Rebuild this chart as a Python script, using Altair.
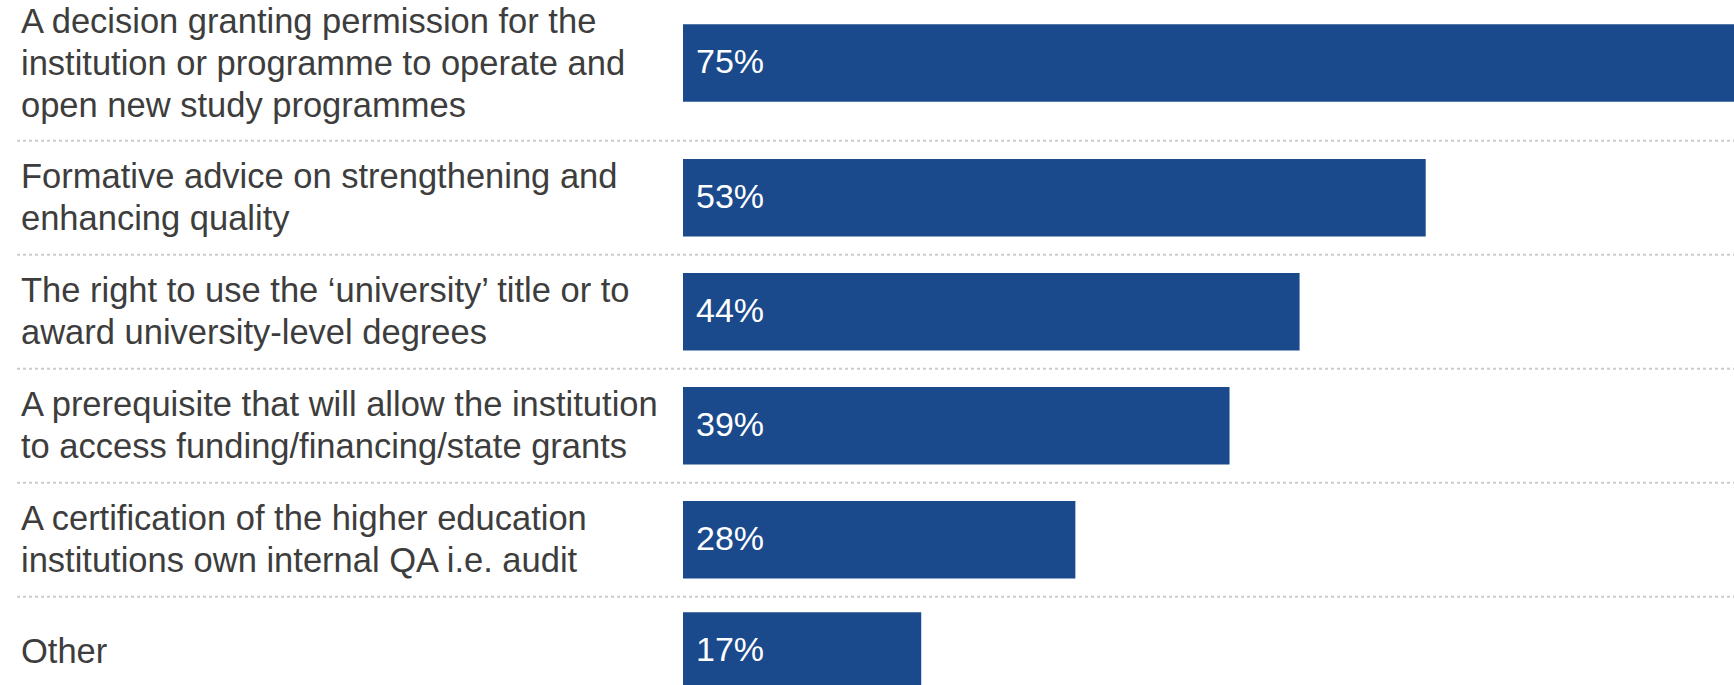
import altair as alt
import pandas as pd

# ---- data ----
categories = [
    "A decision granting permission for the\ninstitution or programme to operate and\nopen new study programmes",
    "Formative advice on strengthening and\nenhancing quality",
    "The right to use the \u2018university\u2019 title or to\naward university-level degrees",
    "A prerequisite that will allow the institution\nto access funding/financing/state grants",
    "A certification of the higher education\ninstitutions own internal QA i.e. audit",
    "Other",
]
values = [75, 53, 44, 39, 28, 17]
value_labels = [f"{v}%" for v in values]

# ---- layout (pixels) ----
W_LABEL = 683
W_BAR = 1734 - W_LABEL
H = 685
ROW_LINE = 41.5
TEXT_LINE = 42
BAR_H = 77.5
ROW_PAD = 31
TOP = -14.7

rows = []
top = TOP
for cat, v, lab in zip(categories, values, value_labels):
    n = cat.count("\n") + 1
    h = max(n * ROW_LINE, BAR_H) + ROW_PAD
    mid = top + h / 2
    rows.append(dict(cat=cat, value=v, label=lab, zero=0, mid=mid,
                     text_y=mid - (n - 1) / 2 * TEXT_LINE,
                     y0=mid - BAR_H / 2, y1=mid + BAR_H / 2, bottom=top + h))
    top += h
df = pd.DataFrame(rows)

yscale = alt.Scale(domain=[0, H], reverse=True, nice=False, zero=False)
xscale = alt.Scale(domain=[0, max(values)], nice=False, zero=True)

BLUE = "#1a4a8b"
GRID = "#cccccc"

# ---- left panel: category labels ----
cat_text = alt.Chart(df).mark_text(
    align="left", baseline="middle", fontSize=34.5, lineHeight=TEXT_LINE,
    lineBreak="\n", color="#3d3d3d", font="Liberation Sans", dy=1.5, clip=True
).encode(
    x=alt.value(21),
    y=alt.Y("text_y:Q", scale=yscale, axis=None),
    text="cat:N",
)
left_rule = alt.Chart(df).mark_rule(
    strokeDash=[3, 3], color=GRID, strokeWidth=2, clip=True
).encode(
    x=alt.value(17), x2=alt.value(W_LABEL),
    y=alt.Y("bottom:Q", scale=yscale, axis=None),
)
left = alt.layer(left_rule, cat_text).properties(width=W_LABEL, height=H)

# ---- right panel: bars ----
bars = alt.Chart(df).mark_rect(color=BLUE, clip=True).encode(
    x=alt.X("zero:Q", scale=xscale, axis=None),
    x2="value:Q",
    y=alt.Y("y0:Q", scale=yscale, axis=None),
    y2="y1:Q",
)
val_text = alt.Chart(df).mark_text(
    align="left", baseline="middle", fontSize=34, dx=13,
    color="white", font="Liberation Sans", clip=True
).encode(
    x=alt.X("zero:Q", scale=xscale, axis=None),
    y=alt.Y("mid:Q", scale=yscale, axis=None),
    text="label:N",
)
right_rule = alt.Chart(df).mark_rule(
    strokeDash=[3, 3], color=GRID, strokeWidth=2, clip=True
).encode(
    x=alt.value(0), x2=alt.value(W_BAR),
    y=alt.Y("bottom:Q", scale=yscale, axis=None),
)
right = alt.layer(right_rule, bars, val_text).properties(width=W_BAR, height=H)

chart = alt.hconcat(left, right, spacing=0).properties(
    padding=0, background="white"
).configure_view(stroke=None)

chart.save("out.html", embed_options={"renderer": "svg", "actions": False})
